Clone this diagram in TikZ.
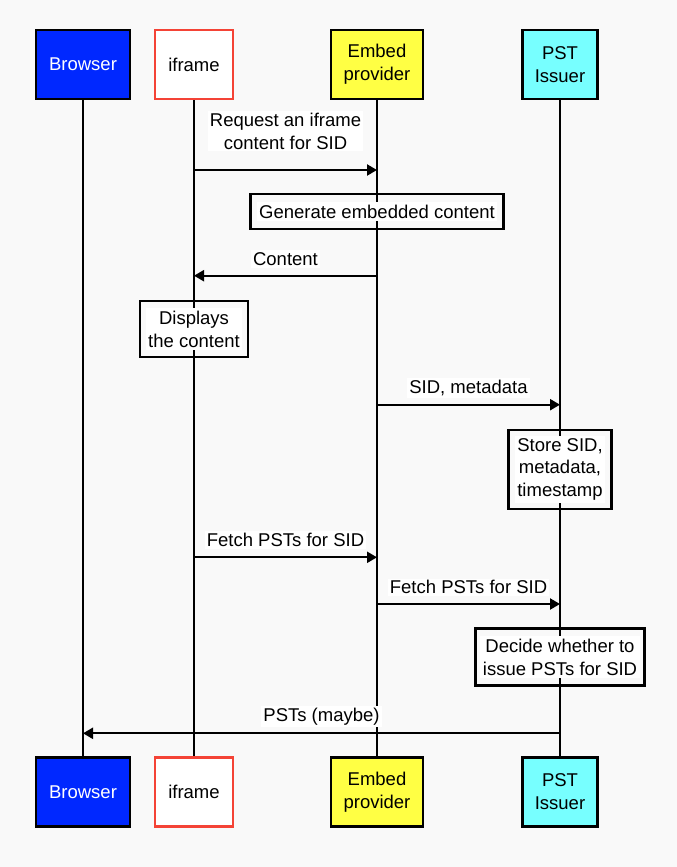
\documentclass[tikz,border=0pt]{standalone}
\usepackage{fontspec}
\setmainfont{Liberation Sans}
\usetikzlibrary{arrows.meta}
\definecolor{bgc}{HTML}{F9F9F9}
\definecolor{brblue}{HTML}{0028FF}
\definecolor{ifred}{HTML}{F44336}
\definecolor{embyellow}{HTML}{FFFF44}
\definecolor{pstcyan}{HTML}{77FFFF}
\begin{document}
\begin{tikzpicture}[x=1pt,y=-1pt,
  font=\fontsize{18.5}{22.8}\selectfont,
  actor/.style={draw=black, line width=2.5pt, minimum height=69pt, align=center, inner sep=0pt},
  life/.style={line width=2pt, black},
  msg/.style={line width=2.2pt, black, -{Triangle[length=10pt,width=11pt]}},
  lbl/.style={fill=white, inner sep=2pt, align=center},
  actbox/.style={draw=black, line width=2.2pt, inner sep=0pt},
  acttxt/.style={fill=white, inner sep=2.5pt, align=center}]
\useasboundingbox[fill=bgc] (0,0) rectangle (677,867);

% actors top
\node[actor, fill=brblue, text=white, minimum width=94pt] (bT) at (83,64.5) {Browser};
\node[actor, draw=ifred, fill=white, minimum width=78pt] (iT) at (194,64.5) {iframe};
\node[actor, fill=embyellow, minimum width=92pt] (eT) at (377,64.5) {Embed\\provider};
\node[actor, fill=pstcyan, minimum width=75pt] (pT) at (560,64.5) {PST\\Issuer};
% actors bottom
\node[actor, fill=brblue, text=white, minimum width=94pt] (bB) at (83,792) {Browser};
\node[actor, draw=ifred, fill=white, minimum width=78pt] (iB) at (194,792) {iframe};
\node[actor, fill=embyellow, minimum width=92pt] (eB) at (377,792) {Embed\\provider};
\node[actor, fill=pstcyan, minimum width=75pt] (pB) at (560,792) {PST\\Issuer};

% lifelines
\draw[life] (bT) -- (bB);
\draw[life] (iT) -- (iB);
\draw[life] (eT) -- (eB);
\draw[life] (pT) -- (pB);

% message 1
\coordinate (m1a) at (194,170);
\coordinate (m1b) at (377,170);
\draw[msg] (m1a) -- (m1b);
\node[lbl] (l1) at (285.5,131) {Request an iframe\\content for SID};

% activity: generate
\node[actbox, minimum width=253pt, minimum height=35pt] (a1) at (377,211.5) {};
\node[acttxt] (a1t) at (a1) {Generate embedded content};

% message 2
\coordinate (m2a) at (377,275.7);
\coordinate (m2b) at (194,275.7);
\draw[msg] (m2a) -- (m2b);
\node[lbl] (l2) at (285.5,259) {Content};

% activity: displays
\node[actbox, minimum width=108pt, minimum height=56pt] (a2) at (194,329) {};
\node[acttxt] (a2t) at (a2) {Displays\\the content};

% message 3
\coordinate (m3a) at (377,404.7);
\coordinate (m3b) at (560,404.7);
\draw[msg] (m3a) -- (m3b);
\node[lbl] (l3) at (468.5,388) {SID, metadata};

% activity: store
\node[actbox, minimum width=103pt, minimum height=79pt] (a3) at (560,469.4) {};
\node[acttxt] (a3t) at (a3) {Store SID,\\metadata,\\timestamp};

% message 4
\coordinate (m4a) at (194,557.3);
\coordinate (m4b) at (377,557.3);
\draw[msg] (m4a) -- (m4b);
\node[lbl] (l4) at (285.5,540) {Fetch PSTs for SID};

% message 5
\coordinate (m5a) at (377,604);
\coordinate (m5b) at (560,604);
\draw[msg] (m5a) -- (m5b);
\node[lbl] (l5) at (468.5,587.3) {Fetch PSTs for SID};

% activity: decide
\node[actbox, minimum width=169pt, minimum height=57pt] (a4) at (560,657) {};
\node[acttxt] (a4t) at (a4) {Decide whether to\\issue PSTs for SID};

% message 6
\coordinate (m6a) at (560,733.3);
\coordinate (m6b) at (83,733.3);
\draw[msg] (m6a) -- (m6b);
\node[lbl] (l6) at (321.5,716.7) {PSTs (maybe)};
\end{tikzpicture}
\end{document}
